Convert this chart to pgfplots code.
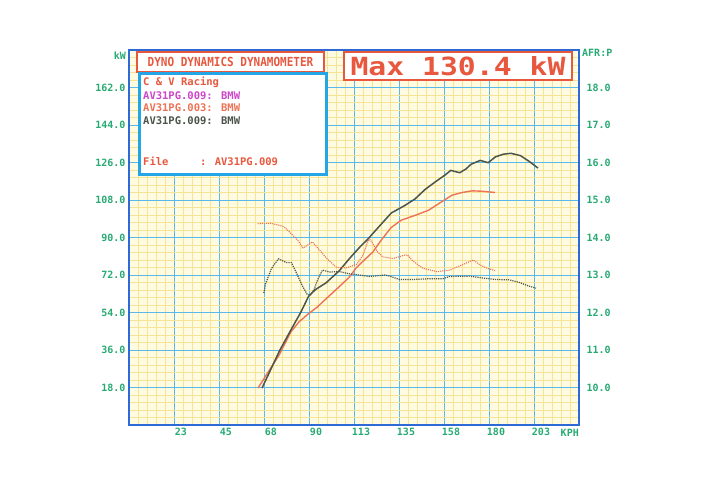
\documentclass[border=0pt]{standalone}
\usepackage{pgfplots}
\pgfplotsset{compat=1.18}
\usepackage{fontspec}
\newfontfamily\dm{DejaVu Sans Mono}
\definecolor{framebl}{RGB}{45,105,215}
\definecolor{gridmaj}{RGB}{90,185,235}
\definecolor{gridmin}{RGB}{245,228,150}
\definecolor{bgc}{RGB}{255,251,224}
\definecolor{tickgreen}{RGB}{40,170,115}
\definecolor{redbox}{RGB}{232,88,62}
\definecolor{cyanbox}{RGB}{35,165,230}
\definecolor{magen}{RGB}{205,70,200}
\definecolor{orangeline}{RGB}{236,115,85}
\definecolor{darkline}{RGB}{75,85,75}
\pgfplotstableread{
x y
66.5 17.7
75.3 35.7
80.6 45.0
86.0 54.3
89.8 61.8
93.2 65.0
98.5 68.2
105.2 74.1
110.4 80.1
115.6 85.6
119.2 89.0
126.0 96.3
131.2 101.8
137.8 105.3
143.0 108.5
148.1 113.1
153.3 116.8
157.9 119.9
160.9 122.2
165.4 121.1
168.5 122.9
171.1 125.2
175.6 127.0
179.6 125.9
183.2 128.7
187.2 130.0
191.0 130.4
195.7 129.3
200.6 126.2
204.5 123.3
}\graypower
\pgfplotstableread{
x y
64.5 17.7
70.0 26.0
75.2 33.8
80.8 44.5
85.0 49.5
89.6 53.3
94.0 56.5
98.0 60.1
104.9 66.2
110.0 70.8
113.6 75.4
116.9 78.5
122.0 83.1
125.7 88.2
131.0 94.7
136.1 98.3
142.7 100.5
149.8 103.1
156.4 107.2
161.5 110.3
166.6 111.6
171.6 112.4
176.6 112.2
183.0 111.6
}\orangepower
\pgfplotstableread{
x y
64.3 14.37
71.0 14.38
77.5 14.29
84.2 13.94
87.0 13.72
91.7 13.88
94.1 13.74
98.9 13.44
103.8 13.20
108.8 13.19
114.0 13.29
117.1 13.54
119.3 13.88
120.4 13.96
122.3 13.80
124.2 13.62
127.0 13.48
132.0 13.44
137.1 13.52
139.1 13.54
142.0 13.37
146.9 13.18
153.9 13.09
160.4 13.13
167.0 13.28
172.1 13.40
175.5 13.27
179.0 13.18
182.9 13.12
}\orangeafr
\pgfplotstableread{
x y
67.4 12.52
68.4 12.78
71.2 13.17
74.7 13.43
78.8 13.33
81.2 13.33
83.6 13.07
86.7 12.71
89.0 12.49
90.7 12.46
92.5 12.61
94.3 12.87
96.7 13.13
100.3 13.08
105.3 13.09
110.3 13.03
115.2 13.00
120.3 12.96
127.8 13.00
130.3 12.97
135.2 12.88
141.9 12.88
150.2 12.90
156.9 12.90
160.2 12.96
170.3 12.97
176.9 12.92
183.6 12.88
190.2 12.87
195.2 12.80
200.2 12.70
203.5 12.65
}\grayafr
\begin{document}
\begin{tikzpicture}
\useasboundingbox (-129pt,-69pt) rectangle (575pt,425pt);
\begin{axis}[
  at={(0pt,0pt)}, anchor=south west,
  width=450pt, height=375pt, scale only axis,
  xmin=0, xmax=225, ymin=0, ymax=180,
  axis background/.style={fill=bgc},
  axis line style={draw=framebl, line width=2pt},
  xtick={0,22.5,...,225},
  xticklabels={,23,45,68,90,113,135,158,180,203,},
  ytick={0,18,...,180},
  yticklabels={,18.0,36.0,54.0,72.0,90.0,108.0,126.0,144.0,162.0,},
  minor tick num=4,
  grid=both,
  major grid style={draw=gridmaj, line width=0.9pt},
  minor grid style={draw=gridmin, line width=0.6pt},
  major tick length=0pt, minor tick length=0pt,
  tick label style={font=\dm\bfseries\fontsize{10}{10}\selectfont, text=tickgreen},
  xticklabel style={xshift=7pt},
]
\addplot[color=orangeline, line width=1.4pt] table[x=x,y=y] {\orangepower};
\addplot[color=darkline, line width=1.5pt] table[x=x,y=y] {\graypower};
\end{axis}
\begin{axis}[
  at={(0pt,0pt)}, anchor=south west,
  width=450pt, height=375pt, scale only axis,
  xmin=0, xmax=225, ymin=9, ymax=19,
  hide x axis,
  axis y line*=right,
  y axis line style={draw=none},
  ytick={10,11,...,18},
  yticklabels={10.0,11.0,12.0,13.0,14.0,15.0,16.0,17.0,18.0},
  major tick length=0pt, minor tick length=0pt,
  tick label style={font=\dm\bfseries\fontsize{10}{10}\selectfont, text=tickgreen},
  yticklabel style={xshift=4pt},
]
\addplot[color=orangeline, line width=1.1pt, densely dotted] table[x=x,y=y] {\orangeafr};
\addplot[color=darkline, line width=1.2pt, densely dotted] table[x=x,y=y] {\grayafr};
\end{axis}
% labels
\node[anchor=east, text=tickgreen, font=\dm\bfseries\fontsize{10}{10}\selectfont, inner sep=0pt] at (-3pt,369pt) {kW};
\node[anchor=west, text=tickgreen, font=\dm\bfseries\fontsize{10}{10}\selectfont, inner sep=0pt] at (453pt,372pt) {AFR:P};
\node[anchor=east, text=tickgreen, font=\dm\bfseries\fontsize{10}{10}\selectfont, inner sep=0pt] at (450pt,-8pt) {KPH};
% title box
\draw[draw=redbox, line width=2.5pt, fill=white] (8pt,353pt) rectangle (195pt,373pt);
\node[text=redbox, inner sep=0pt] at (101.5pt,363pt) {\scalebox{0.88}[1]{\dm\bfseries\fontsize{12.5}{12.5}\selectfont DYNO DYNAMICS DYNAMOMETER}};
% legend box
\draw[draw=cyanbox, line width=3pt, fill=white] (10pt,250pt) rectangle (197pt,351pt);
\begin{scope}[every node/.style={anchor=west, inner sep=0pt, font=\dm\bfseries\fontsize{10.5}{10.5}\selectfont}]
\node[text=redbox] at (14pt,343pt) {C \& V Racing};
\node[text=magen] at (14pt,329.5pt) {AV31PG.009: BMW};
\node[text=orangeline] at (14pt,317pt) {AV31PG.003: BMW};
\node[text=darkline] at (14pt,304pt) {AV31PG.009: BMW};
\node[text=redbox] at (14pt,264pt) {File\ \ \ \ \ : AV31PG.009};
\end{scope}
% max box
\draw[draw=redbox, line width=2.5pt, fill=white] (215pt,345pt) rectangle (443pt,373pt);
\node[text=redbox, inner sep=0pt] at (329pt,359pt) {\scalebox{1.19}[1]{\dm\bfseries\fontsize{25}{25}\selectfont Max 130.4 kW}};
\end{tikzpicture}
\end{document}
